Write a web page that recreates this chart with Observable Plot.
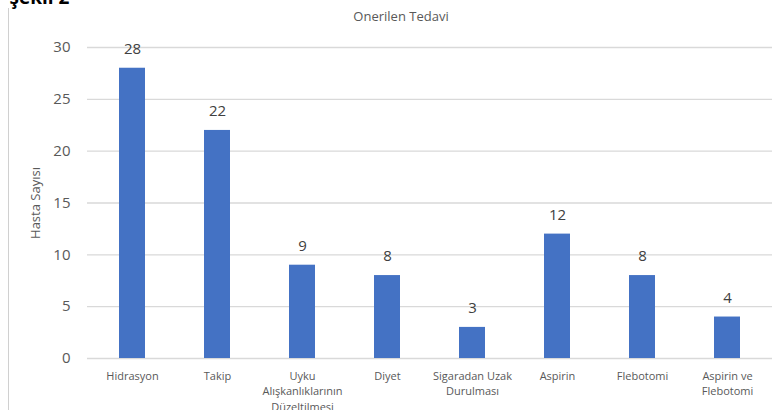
<!DOCTYPE html>
<html>
<head>
<meta charset="utf-8">
<script src="https://cdn.jsdelivr.net/npm/d3@7"></script>
<script src="https://cdn.jsdelivr.net/npm/@observablehq/plot@0.6"></script>
<style>
  html, body { margin: 0; padding: 0; background: #fff; }
  #wrap { position: relative; width: 779px; height: 410px; overflow: hidden; }
  #border { position: absolute; left: 8px; top: 8px; width: 0; height: 410px; border-left: 1px solid #d0d0d0; }
  svg { font-family: "Open Sans", "Noto Sans", sans-serif; }
</style>
</head>
<body>
<div id="wrap"><div id="border"></div></div>
<script>
const categories = [
  "Hidrasyon",
  "Takip",
  "Uyku\nAlışkanlıklarının\nDüzeltilmesi",
  "Diyet",
  "Sigaradan Uzak\nDurulması",
  "Aspirin",
  "Flebotomi",
  "Aspirin ve\nFlebotomi"
];
const values = [28, 22, 9, 8, 3, 12, 8, 4];
const yTicks = [0, 5, 10, 15, 20, 25, 30];
const chartTitle = "Onerilen Tedavi";
const yLabel = "Hasta Sayısı";
const figureLabel = "şekil 2";

const data = categories.map((c, i) => ({category: c, value: values[i]}));

const chart = Plot.plot({
  width: 779,
  height: 410,
  marginLeft: 87,
  marginRight: 7,
  marginTop: 47,
  marginBottom: 52,
  style: {background: "transparent", color: "#595959", overflow: "visible"},
  x: {domain: categories, paddingInner: 0.696, paddingOuter: 0.348, align: 0.5},
  y: {domain: [0, 30]},
  marks: [
    Plot.gridY(yTicks, {stroke: "#d9d9d9", strokeOpacity: 1, strokeWidth: 1.3}),
    Plot.axisY({ticks: yTicks, tickSize: 0, tickPadding: 17, fontSize: 15, fill: "#595959", label: null}),
    Plot.axisX({tickSize: 0, tickPadding: 11, fontSize: 11, fill: "#595959", label: null, lineHeight: 1.38}),
    Plot.barY(data, {x: "category", y: "value", fill: "#4472C4"}),
    Plot.text(data, {x: "category", y: "value", text: d => String(d.value), dy: -19, fontSize: 15, fill: "#404040"}),
    Plot.text([chartTitle], {frameAnchor: "top", dx: -29, dy: -36, fontSize: 13, fill: "#595959"}),
    Plot.text([yLabel], {frameAnchor: "left", dx: -52, rotate: -90, textAnchor: "middle", fontSize: 13, fill: "#595959"}),
    Plot.text([figureLabel], {frameAnchor: "top-left", dx: -78, dy: -57, textAnchor: "start", fontSize: 19, fontWeight: "bold", fill: "#000", lineAnchor: "top"})
  ]
});
document.getElementById("wrap").appendChild(chart);
chart.style.position = "absolute";
chart.style.left = "0";
chart.style.top = "0";
</script>
</body>
</html>
